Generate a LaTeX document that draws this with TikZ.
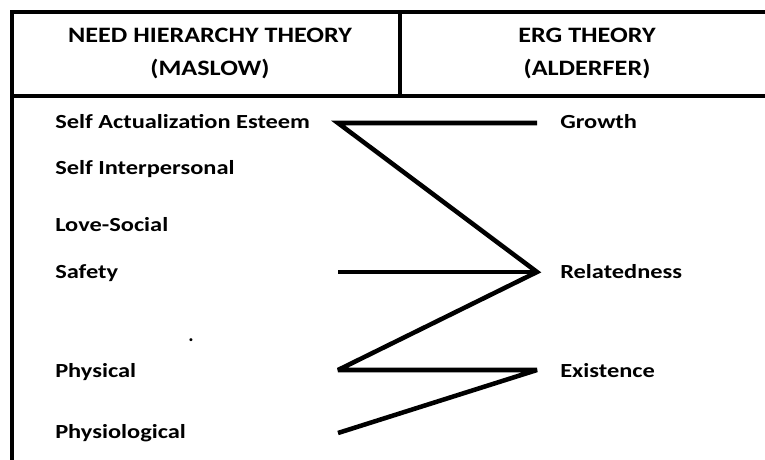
\documentclass[tikz,border=0pt]{standalone}
\usepackage{fontspec}
\usepackage{graphicx}
\setmainfont{Carlito}
\newcommand{\wide}[1]{\scalebox{1.22}[1]{#1}}
\newcommand{\hwide}[1]{\scalebox{1.19}[1]{#1}}
\begin{document}
\begin{tikzpicture}[x=0.75pt,y=-0.75pt,
  frame/.style={line width=3pt},
  zig/.style={line width=3.4pt, line join=miter, miter limit=4},
  head/.style={font=\bfseries\fontsize{16.5}{25.5}\selectfont, inner sep=0pt, anchor=base},
  lbl/.style={font=\bfseries\fontsize{15}{18}\selectfont, inner sep=0pt, anchor=base west}]
\useasboundingbox (0,0) rectangle (765,460);
% table frame
\draw[frame] (800,12) -- (12,12) -- (12,470);
\draw[frame] (12,96) -- (800,96);
\draw[frame] (400,12) -- (400,96);
% headers
\node[head] (h1) at (210,43) {\hwide{NEED HIERARCHY THEORY}};
\node[head] (h1b) at (210,76) {\hwide{(MASLOW)}};
\node[head] (h2) at (587,43) {\hwide{ERG THEORY}};
\node[head] (h2b) at (587,76) {\hwide{(ALDERFER)}};
% Maslow labels
\node[lbl] (sa) at (55,128) {\wide{Self Actualization Esteem}};
\node[lbl] (si) at (55,175) {\wide{Self Interpersonal}};
\node[lbl] (ls) at (55,231) {\wide{Love-Social}};
\node[lbl] (sf) at (55,278) {\wide{Safety}};
\node[lbl] (ph) at (55,377) {\wide{Physical}};
\node[lbl] (py) at (55,438) {\wide{Physiological}};
\node[lbl] (dot) at (188,341) {.};
% ERG labels
\node[lbl] (gr) at (560,128) {\wide{Growth}};
\node[lbl] (re) at (560,278) {\wide{Relatedness}};
\node[lbl] (ex) at (560,377) {\wide{Existence}};
% zigzag points
\coordinate (G) at (537,123);
\coordinate (A) at (338,123);
\coordinate (R) at (537,272);
\coordinate (S) at (338,272);
\coordinate (P) at (338,370);
\coordinate (E) at (537,370);
\coordinate (Q) at (338,433);
\draw[zig] (G) -- (A) -- (R) -- (P) -- (E) -- (Q);
\draw[zig] (S) -- (R);
\end{tikzpicture}
\end{document}
